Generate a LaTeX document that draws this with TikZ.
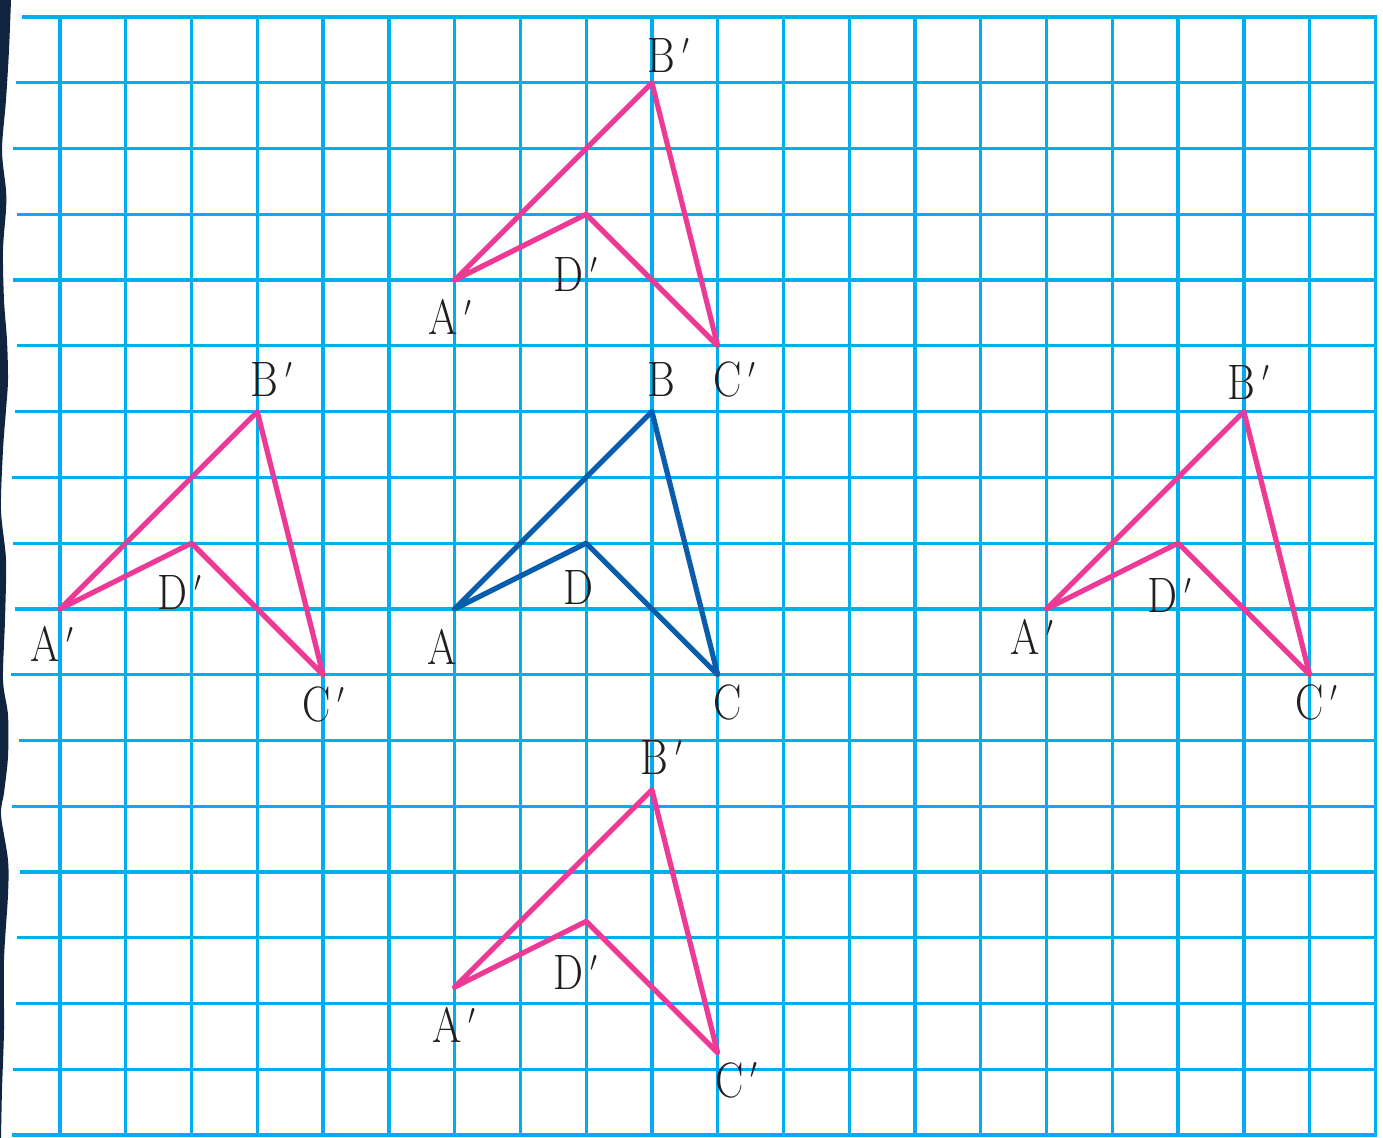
\documentclass[tikz,border=0pt]{standalone}
\usepackage{graphicx}
\definecolor{gridc}{HTML}{00AEEF}
\definecolor{pinkc}{HTML}{EC3A96}
\definecolor{bluec}{HTML}{0A5CAD}
\definecolor{navyc}{HTML}{10243F}
\definecolor{textc}{HTML}{231F20}
\newcommand{\lbl}[1]{\scalebox{0.85}[1]{$\mathrm{#1}$}}
\newcommand{\lblp}[1]{\scalebox{0.85}[1]{$\mathrm{#1}\mkern3mu{}^{\scriptscriptstyle\prime}$}}
\begin{document}
\begin{tikzpicture}[x=0.5pt,y=-0.5pt,
  gridline/.style={gridc,line width=1.65pt},
  pinkshape/.style={pinkc,line width=2.6pt,line join=round,line cap=round},
  blueshape/.style={bluec,line width=2.6pt,line join=round,line cap=round},
  lab/.style={anchor=base west,inner sep=0pt,text=textc,font=\fontsize{28}{30}\selectfont}]
\useasboundingbox (0,0) rectangle (1383,1138);
\fill[white] (0,0) rectangle (1383,1138);
% torn navy edge
\fill[navyc] (0,0) -- plot[smooth] coordinates {(11,0) (9,50) (6,100) (2,150) (6,190) (6,210) (3,250) (4,300) (7,340) (8,380) (6,410) (3,450) (1,510) (6,560) (5,620) (3,680) (8,715) (8,757) (4,793) (1,815) (8,860) (8,895) (4,960) (4,1030) (2,1090) (1,1138)} -- (0,1138) -- cycle;
% grid
\foreach \i in {0,...,20}
  \draw[gridline] ({60+\i*65.77},15.3) -- ({60+\i*65.77},1136.7);
\foreach \lx [count=\r from 0] in {22,16,13,17,13,17,15,12,13,15,11,19,12,20,17,16,13,12}
  \draw[gridline] (\lx,{17+\r*65.77}) -- (1376.6,{17+\r*65.77});
% vertices of the original and its four translated copies
\foreach \n/\dx/\dy in {O/0/0, T/0/-5, L/-6/0, R/9/0, W/0/5.75} {
  \coordinate (\n A) at ({60+(6+(\dx))*65.77},{17+(9+(\dy))*65.77});
  \coordinate (\n B) at ({60+(9+(\dx))*65.77},{17+(6+(\dy))*65.77});
  \coordinate (\n C) at ({60+(10+(\dx))*65.77},{17+(10+(\dy))*65.77});
  \coordinate (\n D) at ({60+(8+(\dx))*65.77},{17+(8+(\dy))*65.77});
}
\draw[blueshape] (OA) -- (OB) -- (OC) -- (OD) -- cycle;
\foreach \n in {T,L,R,W}
  \draw[pinkshape] (\n A) -- (\n B) -- (\n C) -- (\n D) -- cycle;
% labels: original
\node[lab] (lOB) at (647,397) {\lbl{B}};
\node[lab] (lOA) at (427,665) {\lbl{A}};
\node[lab] (lOD) at (563,605) {\lbl{D}};
\node[lab] (lOC) at (713,720) {\lbl{C}};
% labels: top copy
\node[lab] (lTB) at (647,73) {\lblp{B}};
\node[lab] (lTA) at (428,335) {\lblp{A}};
\node[lab] (lTD) at (553,292) {\lblp{D}};
\node[lab] (lTC) at (713,397) {\lblp{C}};
% labels: left copy
\node[lab] (lLB) at (250,397) {\lblp{B}};
\node[lab] (lLA) at (30,662) {\lblp{A}};
\node[lab] (lLD) at (157,610) {\lblp{D}};
\node[lab] (lLC) at (302,722) {\lblp{C}};
% labels: right copy
\node[lab] (lRB) at (1227,400) {\lblp{B}};
\node[lab] (lRA) at (1010,655) {\lblp{A}};
\node[lab] (lRD) at (1147,613) {\lblp{D}};
\node[lab] (lRC) at (1295,720) {\lblp{C}};
% labels: bottom copy
\node[lab] (lWB) at (640,775) {\lblp{B}};
\node[lab] (lWA) at (432,1043) {\lblp{A}};
\node[lab] (lWD) at (553,990) {\lblp{D}};
\node[lab] (lWC) at (715,1097) {\lblp{C}};
\end{tikzpicture}
\end{document}
